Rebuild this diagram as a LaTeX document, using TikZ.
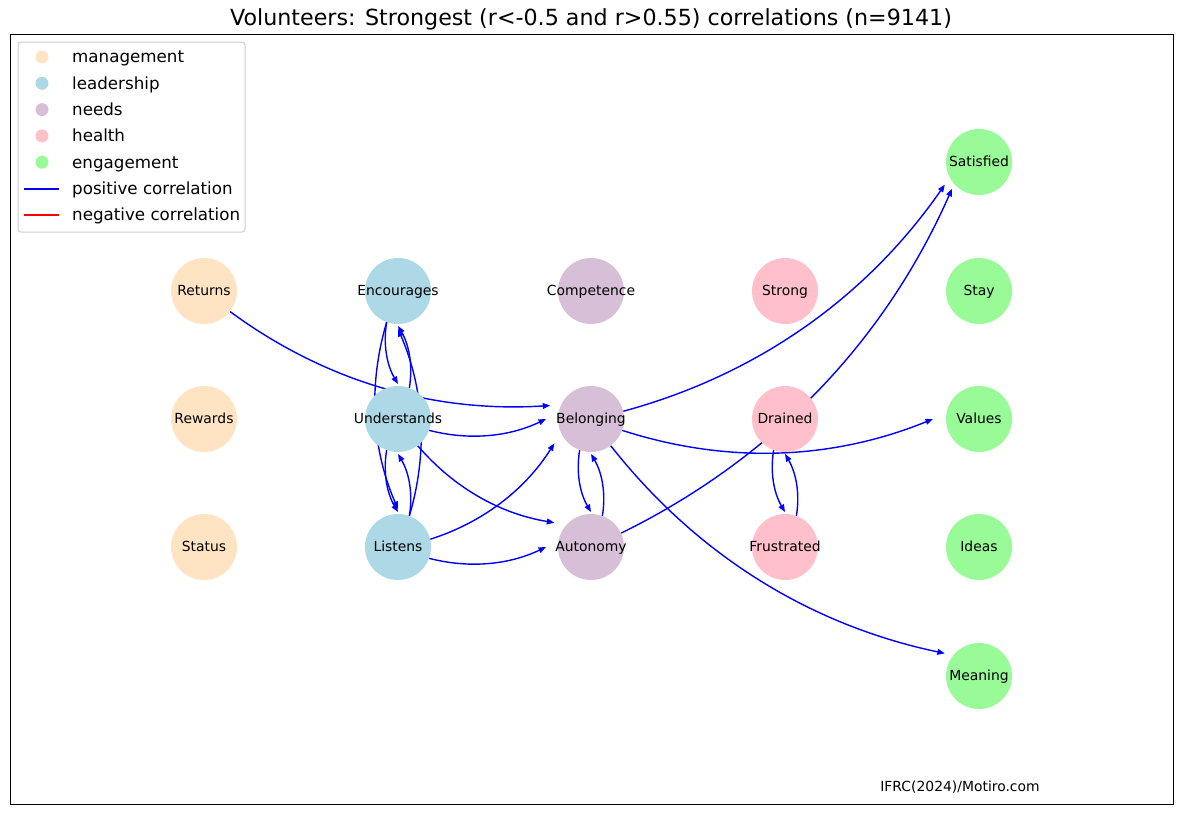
\documentclass[tikz,border=0pt]{standalone}
\usepackage{fontspec}
\setmainfont{DejaVu Sans}
\usetikzlibrary{arrows.meta,calc}
\definecolor{mgmtc}{HTML}{FFE4C4}
\definecolor{leadc}{HTML}{ADD8E6}
\definecolor{needc}{HTML}{D8BFD8}
\definecolor{hlthc}{HTML}{FFC0CB}
\definecolor{engc}{HTML}{98FB98}
\definecolor{posc}{HTML}{0000FF}
\definecolor{negc}{HTML}{FF0000}
\pgfdeclarelayer{bg}
\pgfsetlayers{bg,main}
\tikzset{
  nd/.style={circle,minimum size=66pt,inner sep=0pt,fill=#1},
  every label/.style={font=\fontsize{13.9}{16}\selectfont,inner sep=0pt,text height=12.9pt,text depth=3.3pt},
  cor/.style={-{Triangle[length=7.5pt,width=5.8pt]},line width=1.4pt,posc,bend right=20,looseness=0.9},
  lg/.style={font=\fontsize{16.7}{19}\selectfont,anchor=west,inner sep=0pt,text height=15.5pt,text depth=3.9pt}
}

\begin{document}
\begin{tikzpicture}[x=1pt,y=-1pt]
\useasboundingbox (0,0) rectangle (1182,814);
\draw[line width=1pt] (10.5,34.5) rectangle (1173.5,804.5);
\node[font=\fontsize{22.2}{26}\selectfont] (title) at (591,19) {Volunteers: Strongest (r<-0.5 and r>0.55) correlations (n=9141)};
\node[font=\fontsize{13.9}{16}\selectfont] (src) at (960,787) {IFRC(2024)/Motiro.com};
% nodes
\node[nd=mgmtc,label=center:Returns] (ret) at (204,291) {};
\node[nd=mgmtc,label=center:Rewards] (rew) at (204,419) {};
\node[nd=mgmtc,label=center:Status] (sta) at (204,547) {};
\node[nd=leadc,label=center:Encourages] (enc) at (398,291) {};
\node[nd=leadc,label=center:Understands] (und) at (398,419) {};
\node[nd=leadc,label=center:Listens] (lis) at (398,547) {};
\node[nd=needc,label=center:Competence] (com) at (591,291) {};
\node[nd=needc,label=center:Belonging] (bel) at (591,419) {};
\node[nd=needc,label=center:Autonomy] (aut) at (591,547) {};
\node[nd=hlthc,label=center:Strong] (str) at (785,291) {};
\node[nd=hlthc,label=center:Drained] (dra) at (785,419) {};
\node[nd=hlthc,label=center:Frustrated] (fru) at (785,547) {};
\node[nd=engc,label=center:Satisfied] (sat) at (979,162) {};
\node[nd=engc,label=center:Stay] (sty) at (979,291) {};
\node[nd=engc,label=center:Values] (val) at (979,419) {};
\node[nd=engc,label=center:Ideas] (ide) at (979,547) {};
\node[nd=engc,label=center:Meaning] (mea) at (979,676) {};
% correlations, behind the nodes; tip stops \d short of the target centre
\begin{pgfonlayer}{bg}
\foreach \a/\b/\d in {ret/bel/43,enc/und/35,enc/lis/38,und/enc/35,und/lis/35,und/bel/45,und/aut/44,
  lis/enc/38,lis/und/35,lis/bel/44,lis/aut/45,bel/sat/41,bel/val/46,bel/aut/35,bel/mea/41,
  aut/bel/35,aut/sat/38,dra/fru/35,fru/dra/35}
  \draw[cor] (\a) to ($(\b)!\d pt!(\a)$);
\end{pgfonlayer}
% legend
\draw[rounded corners=3pt,draw=black!20,fill=white,line width=1pt] (18,42) rectangle (245,232);
\foreach \c/\t [count=\i] in {mgmtc/management,leadc/leadership,needc/needs,hlthc/health,engc/engagement} {
  \fill[\c] (42,{57+26.3*(\i-1)}) circle (6.5pt);
  \node[lg] (lg\i) at (72,{57+26.3*(\i-1)}) {\t};
}
\draw[posc,line width=2pt] (24,189) -- (59,189);
\node[lg] (lgpos) at (72,189) {positive correlation};
\draw[negc,line width=2pt] (24,215) -- (59,215);
\node[lg] (lgneg) at (72,215) {negative correlation};
\end{tikzpicture}
\end{document}
